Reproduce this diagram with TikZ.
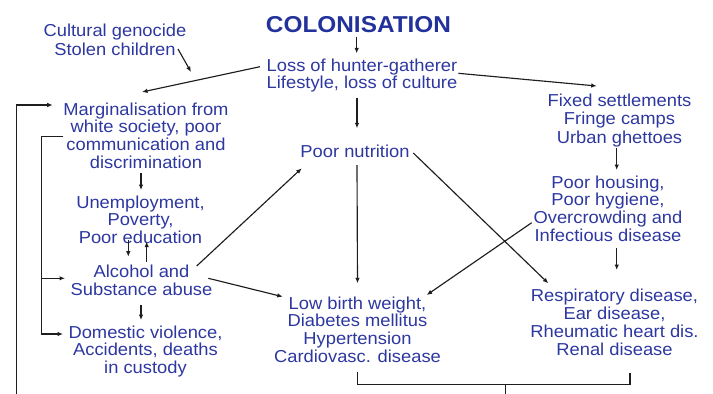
\documentclass[tikz,border=0pt]{standalone}
\usepackage{fontspec}
\setmainfont{Liberation Sans}[FakeStretch=1.06]
\usetikzlibrary{arrows.meta,calc}
\definecolor{txtblue}{RGB}{45,55,160}
\definecolor{ttlblue}{RGB}{35,50,155}
\definecolor{linegray}{RGB}{30,30,30}
\newcommand{\mlines}[1]{\begin{tabular}[t]{@{}c@{}}#1\end{tabular}}
\begin{document}
\begin{tikzpicture}[x=1pt,y=-1pt,
  lbl/.style={text=txtblue, anchor=base, inner sep=5pt, outer sep=0pt,
              font=\fontsize{17.3pt}{#1}\selectfont},
  lbl/.default=17.6pt,
  ttl/.style={text=ttlblue, anchor=base, inner sep=5pt, outer sep=0pt,
              font=\bfseries\fontsize{23pt}{23pt}\selectfont},
  conn/.style={draw=linegray, line width=1.15pt},
  arr/.style={conn, -{Latex[length=5.5pt,width=4.6pt]}},
]
\useasboundingbox (0,0) rectangle (713,394);

% nodes (placed at the baseline of their first line)
\node[ttl] (title) at (358.5,32) {COLONISATION};
\node[lbl=18.3pt] (cult) at (115,36.7) {\mlines{Cultural genocide\\Stolen children}};
\node[lbl=15.5pt] (loss) at (362,71.5) {\mlines{Loss of hunter-gatherer\\Lifestyle, loss of culture}};
\node[lbl=17.3pt] (marg) at (146,115) {\mlines{Marginalisation from\\white society, poor\\communication and\\discrimination}};
\node[lbl=17.3pt] (unemp) at (140.5,208) {\mlines{Unemployment,\\Poverty,\\Poor education}};
\node[lbl=18pt] (alc) at (141.5,277) {\mlines{Alcohol and\\Substance abuse}};
\node[lbl=17.5pt] (dom) at (145.5,338) {\mlines{Domestic violence,\\Accidents, deaths\\in custody}};
\node[lbl] (nutr) at (355,157) {Poor nutrition};
\node[lbl=17.9pt] (lbw) at (357.5,309) {\mlines{Low birth weight,\\Diabetes mellitus\\Hypertension\\Cardiovasc. disease}};
\node[lbl=18.2pt] (fixed) at (619.5,106.7) {\mlines{Fixed settlements\\Fringe camps\\Urban ghettoes}};
\node[lbl=17.9pt] (house) at (608,188) {\mlines{Poor housing,\\Poor hygiene,\\Overcrowding and\\Infectious disease}};
\node[lbl=18pt] (resp) at (614.5,301.7) {\mlines{Respiratory disease,\\Ear disease,\\Rheumatic heart dis.\\Renal disease}};

% free ends
\coordinate (cultTip) at (191,72);
\coordinate (outerEnd) at (16.7,398);
\coordinate (inner) at (41.7,0);
\coordinate (stemEnd) at (505.7,398);

% connectors
\draw[arr] ([shift={(-1.8,4.7)}]title.base) -- ([shift={(-5.3,-18.2)}]loss.base);
\draw[arr] ([shift={(-5,26.8)}]loss.base) -- ([shift={(2,-28.7)}]nutr.base);
\draw[arr] ([shift={(-102,-4.8)}]loss.base) -- ([shift={(-4,-23)}]marg.base);
\draw[arr] ([shift={(63,12.3)}]cult.base) -- (cultTip);
\draw[arr] ([shift={(96.3,1.8)}]loss.base) -- ([shift={(-22.8,-20.7)}]fixed.base);
\draw[arr] ([shift={(-5,58)}]marg.base) -- ([shift={(0.5,-18)}]unemp.base);
\draw[arr] ([shift={(-12.2,32)}]unemp.base) -- ([shift={(-13.2,-20.3)}]alc.base);
\draw[arr] ([shift={(5.2,-15.3)}]alc.base) -- ([shift={(6.2,33.7)}]unemp.base);
\draw[arr] ([shift={(55.2,-11)}]alc.base) -- ([shift={(-53.3,11.3)}]nutr.base);
\draw[arr] ([shift={(66.8,1.3)}]alc.base) -- ([shift={(-74.8,-12.3)}]lbw.base);
\draw[arr] ([shift={(-0.5,28)}]alc.base) -- ([shift={(-4.5,-18)}]dom.base);
\draw[arr] ([shift={(2,8)}]nutr.base) -- ([shift={(0,-25.7)}]lbw.base);
\draw[arr] ([shift={(58.3,-4)}]nutr.base) -- ([shift={(-66.2,-18.4)}]resp.base);
\draw[arr] ([shift={(-76.3,34.7)}]house.base) -- ([shift={(69.2,-14)}]lbw.base);
\draw[arr] ([shift={(-2.8,41.3)}]fixed.base) -- ([shift={(8.7,-18)}]house.base);
\draw[arr] ([shift={(8.7,60)}]house.base) -- ([shift={(2.2,-31.7)}]resp.base);

% feedback loops on the left
\draw[arr] (outerEnd) |- ([shift={(-93.3,-10)}]marg.base);
\path ([shift={(-82.7,21.7)}]marg.base) coordinate (margOut);
\draw[arr] (margOut) -- (inner |- margOut) |- ([shift={(-82.5,-4)}]dom.base);
\path ([shift={(-76.5,1.3)}]alc.base) coordinate (alcIn);
\draw[arr] (inner |- alcIn) -- (alcIn);

% bracket at the bottom
\draw[conn] ([shift={(0.2,62.7)}]lbw.base) -- ++(0,12.8) coordinate (brL)
  -| ([shift={(15.5,71)}]resp.base);
\draw[conn] (brL -| stemEnd) -- (stemEnd);
\end{tikzpicture}
\end{document}
